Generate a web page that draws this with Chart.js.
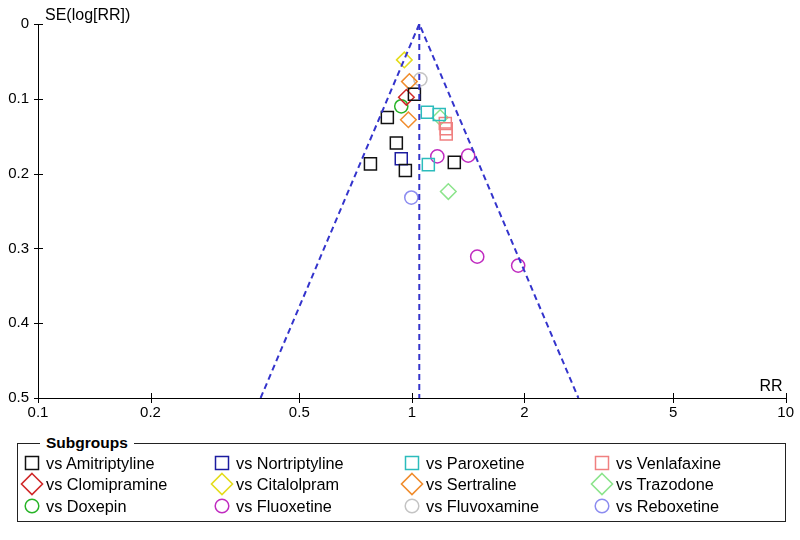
<!DOCTYPE html>
<html>
<head>
<meta charset="utf-8">
<script src="https://cdn.jsdelivr.net/npm/chart.js@4.4.1/dist/chart.umd.min.js"></script>
<style>
  html, body { margin: 0; padding: 0; background: #fff; }
  #wrap { position: relative; width: 800px; height: 540px; font-family: "Liberation Sans", Arial, sans-serif; color: #000; }
  #c { position: absolute; left: 0; top: 0; }
  #legend { position: absolute; left: 17px; top: 443px; width: 769px; height: 79px; border: 1px solid #222; box-sizing: border-box; }
  #legend .title { position: absolute; left: 22px; top: -10px; padding: 0 6px; background: #fff; font-weight: bold; font-size: 15.5px; line-height: 18px; }
  .item { position: absolute; height: 24px; line-height: 24px; font-size: 16.3px; white-space: nowrap; }
  .item svg { position: absolute; left: 0; top: 0; }
  .item span { position: absolute; left: 26px; top: 0; }
</style>
</head>
<body>
<div id="wrap">
  <canvas id="c" width="800" height="540"></canvas>
  <div id="legend"><div class="title">Subgroups</div></div>
</div>
<script>
// Funnel plot: subgroup comparisons, RR vs SE(log[RR])
const xTicks = [0.1, 0.2, 0.5, 1, 2, 5, 10];
const xTickLabels = ['0.1', '0.2', '0.5', '1', '2', '5', '10'];
const yTicks = [0, 0.1, 0.2, 0.3, 0.4, 0.5];
const yTickLabels = ['0', '0.1', '0.2', '0.3', '0.4', '0.5'];

// pooled estimate and 95% funnel limits, [RR, SE]
const funnelEdges = [[0.394, 0.5], [1.047, 0], [2.79, 0.5]];
const pooledLine = [[1.047, 0], [1.047, 0.5]];

// study points, [RR, SE]
const amitriptyline = [[1.016, 0.094], [0.860, 0.125], [0.909, 0.159], [0.775, 0.187], [0.961, 0.196], [1.299, 0.185]];
const nortriptyline = [[0.937, 0.180]];
const paroxetine = [[1.100, 0.118], [1.184, 0.121], [1.107, 0.188]];
const venlafaxine = [[1.229, 0.133], [1.236, 0.140], [1.236, 0.147]];
const clomipramine = [[0.967, 0.098]];
const citalopram = [[0.955, 0.048]];
const sertraline = [[0.985, 0.077], [0.979, 0.128]];
const trazodone = [[1.191, 0.125], [1.252, 0.224]];
const doxepin = [[0.937, 0.110]];
const fluoxetine = [[1.170, 0.177], [1.415, 0.176], [1.496, 0.311], [1.925, 0.323]];
const fluvoxamine = [[1.054, 0.074]];
const reboxetine = [[0.997, 0.232]];

const subgroupNames = ['vs Amitriptyline', 'vs Nortriptyline', 'vs Paroxetine', 'vs Venlafaxine',
  'vs Clomipramine', 'vs Citalolpram', 'vs Sertraline', 'vs Trazodone',
  'vs Doxepin', 'vs Fluoxetine', 'vs Fluvoxamine', 'vs Reboxetine'];
const subgroupData = [amitriptyline, nortriptyline, paroxetine, venlafaxine,
  clomipramine, citalopram, sertraline, trazodone,
  doxepin, fluoxetine, fluvoxamine, reboxetine];
const subgroupColors = ['#111111', '#1c1ca0', '#2cbcbc', '#f08080',
  '#d02828', '#e4dc1c', '#f08c2c', '#8ce48c',
  '#28b428', '#c02cc0', '#c4c4c4', '#8c8cf0'];
const subgroupShapes = ['rect', 'rect', 'rect', 'rect',
  'rectRot', 'rectRot', 'rectRot', 'rectRot',
  'circle', 'circle', 'circle', 'circle'];
const shapeRadius = { rect: 8.5, rectRot: 7.8, circle: 6.6 };

const toXY = arr => arr.map(p => ({ x: p[0], y: p[1] }));
const funnelColor = '#3434cc';

const datasets = [
  { data: toXY(funnelEdges), showLine: true, borderColor: funnelColor, borderWidth: 2, borderDash: [6, 4], pointRadius: 0, fill: false },
  { data: toXY(pooledLine), showLine: true, borderColor: funnelColor, borderWidth: 2, borderDash: [6, 4], pointRadius: 0, fill: false }
];
subgroupData.forEach((d, i) => {
  datasets.push({
    label: subgroupNames[i],
    data: toXY(d),
    showLine: false,
    pointStyle: subgroupShapes[i],
    pointRadius: shapeRadius[subgroupShapes[i]],
    pointBorderColor: subgroupColors[i],
    pointBackgroundColor: 'rgba(0,0,0,0)',
    pointBorderWidth: 1.5,
    borderColor: subgroupColors[i]
  });
});

// tick marks crossing the axes + axis titles
const axisDecor = {
  id: 'axisDecor',
  afterDraw(chart) {
    const { ctx, chartArea: a, scales: { x, y } } = chart;
    ctx.save();
    ctx.strokeStyle = '#000';
    ctx.lineWidth = 1;
    ctx.beginPath();
    x.ticks.forEach(t => {
      const px = Math.round(x.getPixelForValue(t.value)) + 0.5;
      ctx.moveTo(px, a.bottom - 5); ctx.lineTo(px, a.bottom + 5);
    });
    y.ticks.forEach(t => {
      const py = Math.round(y.getPixelForValue(t.value)) + 0.5;
      ctx.moveTo(a.left - 4, py); ctx.lineTo(a.left + 5, py);
    });
    ctx.stroke();
    ctx.fillStyle = '#000';
    ctx.font = '16px "Liberation Sans", Arial, sans-serif';
    ctx.textAlign = 'left';
    ctx.textBaseline = 'alphabetic';
    ctx.fillText('SE(log[RR])', a.left + 7, 20);
    ctx.textAlign = 'right';
    ctx.fillText('RR', a.right - 3, a.bottom - 7);
    ctx.restore();
  }
};

const tickFont = { family: '"Liberation Sans", Arial, sans-serif', size: 15 };

new Chart(document.getElementById('c'), {
  type: 'scatter',
  data: { datasets },
  options: {
    responsive: false,
    animation: false,
    devicePixelRatio: 1,
    layout: { padding: { top: 24, right: 13, left: 0, bottom: 0 } },
    plugins: { legend: { display: false }, tooltip: { enabled: false } },
    scales: {
      x: {
        type: 'logarithmic',
        min: 0.1, max: 10,
        afterBuildTicks: s => { s.ticks = xTicks.map(v => ({ value: v })); },
        afterFit: s => { s.height = 142; },
        grid: { display: false, drawTicks: false },
        border: { display: true, color: '#000', width: 1 },
        ticks: { color: '#000', font: tickFont, padding: 6, maxRotation: 0, autoSkip: false,
          callback: (v, i) => xTickLabels[i] }
      },
      y: {
        type: 'linear',
        reverse: true,
        min: 0, max: 0.5,
        afterBuildTicks: s => { s.ticks = yTicks.map(v => ({ value: v })); },
        afterFit: s => { s.width = 38; },
        grid: { display: false, drawTicks: false },
        border: { display: true, color: '#000', width: 1 },
        ticks: { color: '#000', font: tickFont, padding: 9,
          callback: (v, i) => yTickLabels[i] }
      }
    }
  },
  plugins: [axisDecor]
});

// legend box, 4 columns x 3 rows
const legend = document.getElementById('legend');
const colX = [31, 221, 411, 601];
const rowY = [462, 483, 505];
function markerSvg(shape, color) {
  let body;
  if (shape === 'rect') body = '<rect x="5.5" y="5.5" width="13" height="13" fill="none" stroke="' + color + '" stroke-width="1.5"/>';
  else if (shape === 'rectRot') body = '<polygon points="12,1.5 22.5,12 12,22.5 1.5,12" fill="none" stroke="' + color + '" stroke-width="1.6"/>';
  else body = '<circle cx="12" cy="12" r="6.8" fill="none" stroke="' + color + '" stroke-width="1.5"/>';
  return '<svg width="24" height="24" viewBox="0 0 24 24">' + body + '</svg>';
}
subgroupNames.forEach((name, i) => {
  const el = document.createElement('div');
  el.className = 'item';
  el.style.left = (colX[i % 4] - 17 - 12) + 'px';
  el.style.top = (rowY[Math.floor(i / 4)] - 443 - 12) + 'px';
  el.innerHTML = markerSvg(subgroupShapes[i], subgroupColors[i]) + '<span>' + name + '</span>';
  legend.appendChild(el);
});
</script>
</body>
</html>
